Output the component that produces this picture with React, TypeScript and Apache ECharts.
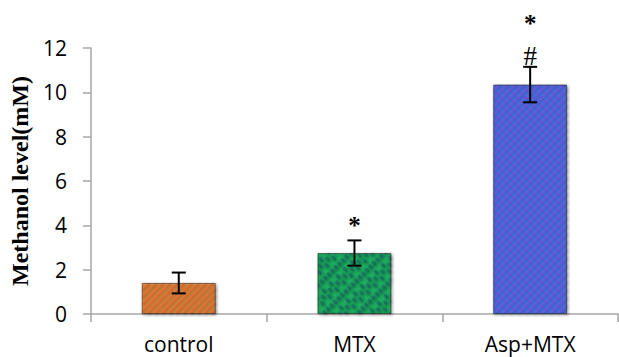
import React, { useEffect, useRef } from "react";
import * as echarts from "echarts";

const categories = ["control", "MTX", "Asp+MTX"];
const means = [1.4, 2.75, 10.35];
const errors = [0.47, 0.57, 0.8];
const annotations = ["", "*", "#"];
const topAnnotations = ["", "", "*"];
const yTicks = { min: 0, max: 12, interval: 2 };

const barColors = ["#EE9244", "#1FAE60", "#4D72EE"];
const decals = [
  {
    symbol: "rect",
    color: "rgba(205,75,30,0.42)",
    dashArrayX: [1, 0],
    dashArrayY: [2, 3],
    rotation: -Math.PI / 4,
    symbolSize: 1,
  },
  {
    symbol: "roundRect",
    color: "rgba(20,80,100,0.45)",
    dashArrayX: [[5, 3], [0, 4, 5, 3]],
    dashArrayY: [3, 2],
    rotation: Math.PI / 4,
    symbolSize: 1,
  },
  {
    symbol: "circle",
    color: "rgba(140,60,200,0.45)",
    dashArrayX: [[4, 4], [0, 4, 4, 0]],
    dashArrayY: [4, 0],
    symbolSize: 0.9,
  },
];

export default function App() {
  const ref = useRef<HTMLDivElement>(null);
  useEffect(() => {
    if (!ref.current) return;
    const chart = echarts.init(ref.current, null, { renderer: "svg" });
    const axisColor = "#A6A6A6";
    chart.setOption({
      animation: false,
      grid: { left: 86, right: 1, top: 48, bottom: 43 },
      xAxis: {
        type: "category",
        data: categories,
        axisLine: { lineStyle: { color: axisColor, width: 1.5 } },
        axisTick: { show: true, length: 8, lineStyle: { color: axisColor, width: 1.5 } },
        axisLabel: {
          margin: 19,
          color: "#000",
          fontFamily: "Open Sans",
          fontSize: 21,
        },
      },
      yAxis: {
        type: "value",
        min: yTicks.min,
        max: yTicks.max,
        interval: yTicks.interval,
        name: "Methanol level(mM)",
        nameLocation: "middle",
        nameGap: 47,
        nameRotate: 90,
        nameTextStyle: {
          fontFamily: "Liberation Serif",
          fontWeight: "bold",
          fontSize: 24,
          color: "#000",
        },
        axisLine: { show: true, lineStyle: { color: axisColor, width: 1.5 } },
        axisTick: { show: true, length: 8, lineStyle: { color: axisColor, width: 1.5 } },
        splitLine: { show: false },
        axisLabel: {
          margin: 24,
          color: "#000",
          fontFamily: "Open Sans",
          fontSize: 21,
        },
      },
      series: [
        {
          type: "bar",
          barWidth: 74,
          data: means.map((v, i) => ({
            value: v,
            itemStyle: {
              color: barColors[i],
              borderColor: "rgba(0,0,0,0.25)",
              borderWidth: 1,
              decal: decals[i],
              shadowColor: "rgba(0,0,0,0.3)",
              shadowBlur: 3,
              shadowOffsetX: 1,
              shadowOffsetY: 1,
            },
          })),
          z: 2,
        },
        {
          type: "custom",
          z: 5,
          clip: false,
          data: means.map((m, i) => [i, m, errors[i]]),
          renderItem: (params: any, api: any) => {
            const i = api.value(0);
            const m = api.value(1);
            const e = api.value(2);
            const idx = params.dataIndex;
            const ann = annotations[idx];
            const topAnn = topAnnotations[idx];
            const hi = api.coord([i, m + e]);
            const lo = api.coord([i, m - e]);
            const cap = 7;
            const style = { stroke: "#000", lineWidth: 2 };
            const children: any[] = [
              { type: "line", shape: { x1: hi[0], y1: hi[1], x2: lo[0], y2: lo[1] }, style },
              { type: "line", shape: { x1: hi[0] - cap, y1: hi[1], x2: hi[0] + cap, y2: hi[1] }, style },
              { type: "line", shape: { x1: lo[0] - cap, y1: lo[1], x2: lo[0] + cap, y2: lo[1] }, style },
            ];
            if (ann) {
              children.push({
                type: "text",
                x: hi[0],
                y: hi[1] - (ann === "#" ? 11 : 15),
                style: {
                  text: ann,
                  fill: "#000",
                  font: ann === "#" ? "27px 'Liberation Serif'" : "bold 25px 'Liberation Serif'",
                  align: "center",
                  verticalAlign: "middle",
                },
              });
            }
            if (topAnn) {
              children.push({
                type: "text",
                x: hi[0],
                y: hi[1] - 43,
                style: {
                  text: topAnn,
                  fill: "#000",
                  font: "bold 25px 'Liberation Serif'",
                  align: "center",
                  verticalAlign: "middle",
                },
              });
            }
            return { type: "group", children };
          },
        },
      ],
    });
    return () => chart.dispose();
  }, []);
  return <div ref={ref} style={{ width: 619, height: 357, position: "absolute", left: 0, top: 0 }} />;
}
